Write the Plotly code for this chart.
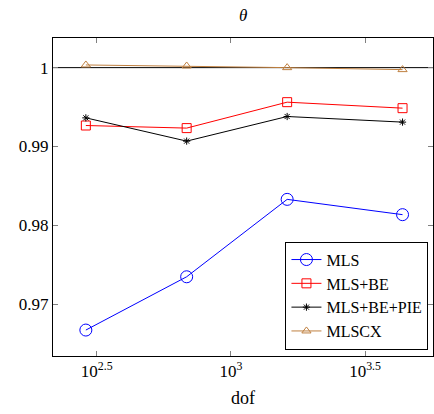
import plotly.graph_objects as go

dof = [288, 684, 1620, 4360]
mls = [0.96671, 0.97347, 0.98329, 0.98135]
mls_be = [0.99266, 0.99233, 0.99562, 0.99486]
mls_be_pie = [0.99363, 0.99068, 0.99380, 0.99309]
mlscx = [1.00034, 1.00021, 1.00000, 0.99975]
ref_value = 1.0

x_tickvals = [10**2.5, 10**3, 10**3.5]
x_ticktext = ["10<sup>2.5</sup>", "10<sup>3</sup>", "10<sup>3.5</sup>"]
y_tickvals = [0.97, 0.98, 0.99, 1.0]
y_ticktext = ["0.97", "0.98", "0.99", "1"]

FONT = "Liberation Serif"

fig = go.Figure()
fig.add_hline(y=ref_value, line=dict(color="black", width=1), layer="below")

fig.add_trace(go.Scatter(x=dof, y=mls, name="MLS", mode="lines+markers",
                         line=dict(color="rgb(0,0,255)", width=1),
                         marker=dict(symbol="circle-open", size=12, color="rgb(0,0,255)", line=dict(width=1))))
fig.add_trace(go.Scatter(x=dof, y=mls_be, name="MLS+BE", mode="lines+markers",
                         line=dict(color="rgb(255,0,0)", width=1),
                         marker=dict(symbol="square-open", size=9, color="rgb(255,0,0)", line=dict(width=1))))
fig.add_trace(go.Scatter(x=dof, y=mls_be_pie, name="MLS+BE+PIE", mode="lines+markers",
                         line=dict(color="black", width=1),
                         marker=dict(symbol="asterisk-open", size=6, color="black", line=dict(width=1))))
fig.add_trace(go.Scatter(x=dof, y=mlscx, name="MLSCX", mode="lines+markers",
                         line=dict(color="rgb(191,128,64)", width=1),
                         marker=dict(symbol="triangle-up-open", size=8, color="rgb(191,128,64)", line=dict(width=1))))

fig.update_layout(
    width=434, height=414,
    margin=dict(l=53, r=1, t=38, b=58, autoexpand=False),
    paper_bgcolor="white", plot_bgcolor="white",
    font=dict(family=FONT, size=17, color="black"),
    title=dict(text="<i>θ</i>", x=0.5605, xanchor="center", y=0.963, yanchor="middle",
               font=dict(family=FONT, size=17)),
    showlegend=True,
    legend=dict(x=0.988, y=0.02, xanchor="right", yanchor="bottom",
                bordercolor="black", borderwidth=1, bgcolor="white",
                font=dict(family=FONT, size=16), tracegroupgap=0,
                itemwidth=30),
)
fig.update_xaxes(type="log", range=[2.337, 3.753],
                 tickvals=x_tickvals, ticktext=x_ticktext,
                 ticks="inside", ticklen=5, tickcolor="gray", tickwidth=1,
                 showline=True, linecolor="black", linewidth=1, mirror="ticks",
                 showgrid=False, zeroline=False,
                 title=dict(text="dof", standoff=10, font=dict(family=FONT, size=18)))
fig.update_yaxes(range=[0.96342, 1.00376],
                 tickvals=y_tickvals, ticktext=y_ticktext,
                 ticks="inside", ticklen=5, tickcolor="gray", tickwidth=1,
                 showline=True, linecolor="black", linewidth=1, mirror="ticks",
                 showgrid=False, zeroline=False)

fig.write_html("out.html", config={"displayModeBar": False},
               post_script="document.body.style.margin='0';document.body.style.padding='0';")
